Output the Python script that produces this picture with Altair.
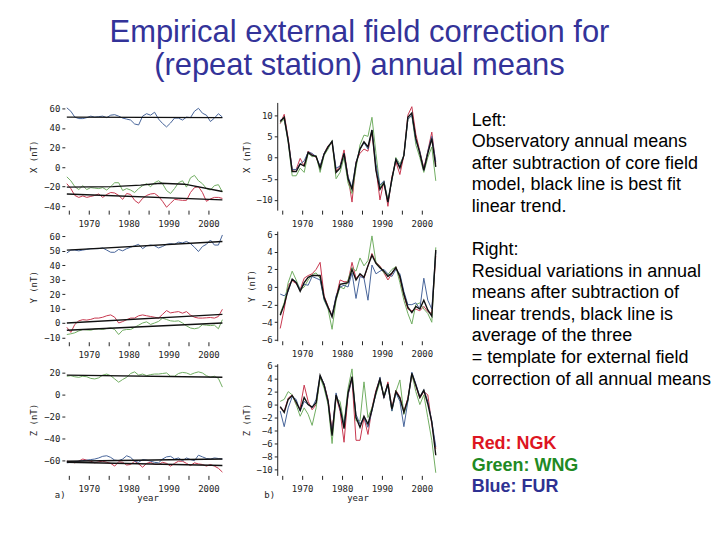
import altair as alt
import pandas as pd

# ---------------- data ----------------
years = list(range(1964, 2004))  # annual means, plotted at mid-year

# Left column: observatory annual means minus core field model (nT)
LX = {
    "NGK": [-17, -22, -29, -31, -29.5, -31, -30, -29, -27.5, -31, -28, -26, -26.5, -29, -33, -27, -28, -34, -37, -32,
            -29, -27.5, -27, -30, -35, -41, -37, -33, -33.5, -34, -34, -26, -21, -20, -26, -35, -32.5, -31, -31, -32],
    "WNG": [-10, -14, -20, -23, -19, -23, -21, -21.5, -22, -21, -23.5, -20, -16, -16, -24, -22, -23.5, -26, -22, -19,
            -17, -20, -16, -14, -17, -24, -27, -22, -16, -14, -20.5, -11, -8.5, -14, -17, -22, -23.5, -19, -18, -25.5],
    "FUR": [60.5, 57, 51, 49.5, 49.5, 50.5, 52, 51, 51.5, 52, 50.5, 53, 53.5, 52, 50, 49, 48, 44, 43, 52,
            54.5, 53, 56, 49, 44.5, 41, 45, 50, 50, 48, 51, 50.5, 57, 60, 55, 53, 46.5, 50, 54.5, 51],
}
LY = {
    "NGK": [-3, -6.5, -1, 1.5, 2.3, 2, 2.5, 3.4, 3.4, 4, 5, 5.6, 4, 0, 1, 2.3, 3.4, 3.4, 5, 5.6,
            5, 4.5, 4, 3.4, 6, 8.6, 7, 7.5, 7.9, 6.8, 7.9, 5.5, 4, 3.4, 3.4, 3.6, 3.8, 3.4, 4.5, 9.5],
    "WNG": [-8, -7.5, -6.8, -5.5, -4.5, -4.8, -5, -4.2, -4, -4.5, -3.8, -3.4, -4.5, -8, -5, -4.5, -4.5, -3, -1.5, 0,
            0.8, -1, 0, 1.1, 3.4, 2.4, 1.5, 1.2, 1.5, 0, -2, -3.5, -4, -3.4, -1.2, -1.5, -1.8, -1.5, -4, 2.3],
    "FUR": [48.5, 50.5, 50.5, 50, 50.5, 51, 51.5, 51.5, 51.5, 52, 50.5, 49, 49, 51, 50, 51.5, 52.5, 53.5, 54.5, 51.5,
            53.5, 54, 53.5, 52, 53, 54.5, 55, 54.5, 56, 55.5, 56.5, 55, 52.5, 49.5, 53, 54.5, 57.5, 54, 54, 61],
}
LZ = {
    "NGK": [-61, -61.5, -62.5, -61, -59, -60, -61, -62.5, -61.5, -61, -62, -63, -65.5, -61.5, -62, -64.5, -64, -61, -63.5, -66.5,
            -63, -62, -64, -64, -62, -63, -65.5, -63, -61, -61, -63, -65, -62.5, -63.5, -64, -65.5, -64, -65.5, -67.5, -71],
    "WNG": [17, 17.5, 16.5, 16, 17, 16.5, 15, 14.5, 15.5, 18, 19, 17.5, 14.5, 11.5, 14, 16, 19.5, 21, 18, 19,
            17.5, 18.5, 19, 19, 19.5, 20, 17, 17, 19.5, 20.5, 20, 18.5, 20, 21, 20, 17.5, 16, 17, 15, 7],
    "FUR": [-62.5, -62, -61.5, -61, -60.5, -60, -59.5, -59, -58, -56.5, -56, -57.5, -60, -60.5, -59, -56, -57.5, -61, -62, -59.5,
            -60, -61, -62, -62.5, -59, -57, -56.5, -59, -58, -60.5, -58, -59.5, -60.5, -55.5, -57, -58.5, -59, -58, -58.5, -59],
}

# best-fit trends (knot years and values)
LX_trend = {
    "NGK": ([1964.5, 2003.5], [-27.5, -33.5]),
    "WNG": ([1964.5, 1976, 1983, 1988, 1994, 2003.5], [-20.5, -20.0, -18.5, -16.5, -17.5, -25.0]),
    "FUR": ([1964.5, 2003.5], [51.0, 50.5]),
}
LY_trend = {
    "NGK": ([1964.5, 2003.5], [0.0, 6.0]),
    "WNG": ([1964.5, 2003.5], [-5.0, 0.0]),
    "FUR": ([1964.5, 2003.5], [50.5, 56.5]),
}
LZ_trend = {
    "NGK": ([1964.5, 2003.5], [-62.0, -65.0]),
    "WNG": ([1964.5, 2003.5], [18.0, 16.0]),
    "FUR": ([1964.5, 2003.5], [-61.0, -59.0]),
}

# Right column: residuals after removing linear trends (nT); "AVG" is the black average
RX = {
    "NGK": [8.0, 10.2, 4.5, -3.0, -2.8, -0.2, -2.0, 1.5, 0.8, 0.0, -2.2, 1.0, 2.8, 3.5, -3.2, -2.0, 1.8, -4.5, -10.5, -1.0,
            1.0, 2.0, 1.5, 6.0, -2.5, -10.0, -5.5, -11.5, -4.5, -1.0, -4.0, 0.5, 10.0, 12.0, 5.5, 1.5, -2.5, 1.5, 6.0, -1.5],
    "WNG": [8.2, 9.0, 3.5, -4.3, -4.3, -2.5, -3.5, 1.0, 0.2, 0.5, -3.5, 0.5, 2.0, 4.0, -5.0, -3.5, 0.0, -6.0, -8.5, -2.5,
            3.0, 5.3, 5.0, 9.5, 1.0, -7.0, -5.5, -10.0, -5.5, 0.0, -1.5, 0.5, 9.0, 10.0, 3.0, 0.0, -3.5, 0.0, 2.5, -5.5],
    "FUR": [8.8, 9.3, 4.0, -2.8, -2.8, -1.5, -0.8, 1.3, 1.0, 0.2, -2.0, 1.0, 2.6, 3.8, -2.5, -2.0, 1.0, -4.5, -7.0, -1.2,
            2.0, 3.5, 2.0, 6.5, -1.5, -6.5, -5.5, -10.5, -5.2, -0.3, -2.0, 0.5, 9.0, 10.0, 4.0, 1.5, -3.0, 1.5, 5.0, -1.0],
    "AVG": [8.5, 9.5, 4.0, -3.3, -3.3, -1.5, -2.0, 1.2, 0.5, 0.3, -2.5, 0.8, 2.5, 3.8, -3.5, -2.5, 1.0, -5.0, -7.5, -1.5,
            2.0, 3.7, 2.5, 6.5, -3.0, -7.5, -6.0, -10.5, -5.0, -0.5, -2.5, 0.5, 9.5, 10.5, 4.5, 1.0, -3.0, 1.0, 4.5, -2.2],
}
RY = {
    "NGK": [-4.7, -2.5, 0.2, 0.7, 0.4, -0.3, 1.0, 1.3, 1.5, 2.0, 2.8, -1.0, -2.2, -3.2, -1.2, 0.8, 0.6, 0.6, 2.8, 1.0,
            1.4, 1.0, 2.4, 3.8, 2.8, 2.4, 1.6, 0.8, 1.5, 2.3, 1.0, -1.0, -2.5, -2.7, -2.5, -2.7, -2.2, -2.8, -3.0, 3.5],
    "WNG": [-3.0, -1.8, 0.5, 1.8, 0.8, -0.3, 0.0, 0.8, 1.4, 1.6, 1.0, -1.5, -2.5, -4.8, -1.5, 0.0, -0.2, 0.8, 2.2, 1.8,
            3.3, 2.4, 3.0, 5.8, 2.8, 2.3, 1.6, 1.4, 2.0, 2.3, 0.5, -1.5, -3.0, -4.2, -2.0, -1.8, -2.5, -3.0, -4.0, 4.5],
    "FUR": [-0.8, -1.0, -0.5, 0.9, 0.6, -0.3, 0.3, 0.2, 1.2, 1.0, 0.8, -1.4, -2.4, -3.2, -1.0, 0.0, 0.2, 0.0, 1.6, -1.3,
            1.2, 1.0, -1.5, 2.5, 1.5, 1.8, 2.0, 1.5, 1.2, 2.0, 1.5, -0.5, -2.0, -2.0, -1.8, -2.5, 1.0, -1.5, -2.5, 4.0],
    "AVG": [-3.2, -2.0, -0.3, 0.9, 0.5, -0.5, 0.5, 1.1, 1.3, 1.3, 1.3, -1.2, -2.3, -3.4, -1.3, 0.3, 0.4, 0.5, 2.0, 0.8,
            1.5, 1.1, 2.4, 3.6, 2.7, 2.2, 1.8, 1.2, 1.6, 2.2, 1.2, -0.8, -2.3, -2.9, -2.2, -2.5, -1.5, -2.6, -3.3, 4.2],
}
RZ = {
    "NGK": [-0.5, -1.0, 1.0, 1.5, 0.0, -0.5, 3.0, 0.5, -0.8, 0.0, 4.3, 3.2, 0.8, -4.0, 1.2, -1.0, -5.8, 1.5, 3.9, -5.5,
            -5.5, -2.0, -4.6, -0.5, 2.2, 4.0, 1.0, 3.5, -0.5, 2.2, 1.2, -1.0, 1.0, 4.5, 2.8, 1.0, 2.0, 1.5, -3.0, -6.8],
    "WNG": [0.5, 0.8, 2.0, 1.5, 0.0, -1.8, -0.5, -1.5, -3.2, -0.5, 4.2, 2.5, 0.0, -6.0, 1.0, 0.5, -3.0, 2.5, 5.5, -2.5,
            -2.5, 3.5, -2.0, -0.5, 1.5, 3.5, 1.5, 3.0, -1.0, 2.0, 3.8, -1.5, 0.5, 4.8, 2.0, 0.0, 1.5, -2.0, -5.5, -10.5],
    "FUR": [-1.0, -3.4, -0.5, 1.2, 0.8, -1.0, 0.5, 0.0, -0.5, 0.8, 4.5, 3.2, 0.5, -4.5, 1.8, -0.8, -3.0, 1.5, 4.0, -1.5,
            -3.0, -2.0, -3.5, -1.0, 1.8, 4.2, 1.0, 3.0, -1.0, 1.8, 0.5, -3.4, 0.5, 5.0, 3.2, 1.2, 2.3, 0.5, -2.5, -6.5],
    "AVG": [-0.3, -1.2, 0.8, 1.4, 0.4, -0.9, 1.1, 0.0, -0.4, 0.3, 4.5, 3.0, 0.5, -4.8, 1.5, -0.5, -3.7, 1.8, 4.3, -2.0,
            -3.5, -1.8, -3.0, -0.8, 1.9, 3.9, 1.2, 3.2, -0.7, 2.0, 1.0, -1.2, 0.8, 4.8, 3.0, 1.1, 2.2, 0.1, -2.7, -7.8],
}

title_lines = ["Empirical external field correction for", "(repeat station) annual means"]
note_lines = [
    "Left:", "Observatory annual means", "after subtraction of core field",
    "model, black line is best fit", "linear trend.",
    "Right:", "Residual variations in annual", "means after subtraction of",
    "linear trends, black line is", "average of the three",
    "= template for external field", "correction of all annual means",
]
note_rows = [0, 1, 2, 3, 4, 6, 7, 8, 9, 10, 11, 12]
legend_lines = ["Red: NGK", "Green: WNG", "Blue: FUR"]
legend_rows = [15, 16, 17]
legend_colors = ["#DD1522", "#1F8A23", "#2E3192"]

# ---------------- styling ----------------
STATIONS = ["NGK", "WNG", "FUR"]
LINE_COLORS = ["#C8384F", "#71AE62", "#47649A"]
BLACK = "#111111"
MONO = "DejaVu Sans Mono"
AX = "#222222"


def obs_df(d):
    rows = []
    for st, vals in d.items():
        for y, v in zip(years, vals):
            rows.append({"year": y + 0.5, "value": v, "station": st})
    return pd.DataFrame(rows)


def knot_df(d):
    rows = []
    for st, (ky, kv) in d.items():
        for y, v in zip(ky, kv):
            rows.append({"year": y, "value": v, "station": st})
    return pd.DataFrame(rows)


def panel(obs, black, ytitle, ydom, yvals, xdom, width, height, ydomain_line, bottom=False, tag=None, tagx=-10):
    xaxis = alt.Axis(
        values=[1965, 1970, 1975, 1980, 1985, 1990, 1995, 2000],
        labelExpr="datum.value % 10 == 0 ? datum.label : ''",
        format="d", domain=False, grid=False, tickSize=4, tickColor=AX,
        labelFont=MONO, labelFontSize=9, labelColor=AX, labelPadding=5,
        title="year" if bottom else None, titleFont=MONO, titleFontSize=9,
        titleFontWeight="normal", titleColor=AX, titlePadding=0,
    )
    yaxis = alt.Axis(
        values=yvals, domain=ydomain_line, domainColor=AX, grid=False, tickSize=3, tickColor=AX,
        labelFont=MONO, labelFontSize=9, labelColor=AX, labelPadding=2,
        title=ytitle, titleFont=MONO, titleFontSize=9, titleFontWeight="normal",
        titleColor=AX, titlePadding=5,
    )
    x = alt.X("year:Q", scale=alt.Scale(domain=xdom, nice=False, zero=False), axis=xaxis)
    y = alt.Y("value:Q", scale=alt.Scale(domain=ydom, nice=False, zero=False), axis=yaxis)
    colored = alt.Chart(obs).mark_line(strokeWidth=1, clip=True).encode(
        x=x, y=y,
        color=alt.Color("station:N", scale=alt.Scale(domain=STATIONS, range=LINE_COLORS), legend=None),
    )
    dark = alt.Chart(black).mark_line(strokeWidth=1.4, color=BLACK, clip=True).encode(
        x=x, y=y, detail="station:N",
    )
    layers = [colored, dark]
    if tag:
        layers.append(
            alt.Chart(pd.DataFrame({"t": [tag]})).mark_text(
                font=MONO, fontSize=9, color=AX, align="left", baseline="middle"
            ).encode(text="t:N", x=alt.value(tagx), y=alt.value(height + 20))
        )
    return alt.layer(*layers).properties(width=width, height=height)


LXD = (1964, 2005.5)
RXD = (1963.75, 2004)
LW, RW = 166, 161

left = alt.vconcat(
    panel(obs_df(LX), knot_df(LX_trend), "X (nT)", [-44, 66], [-40, -20, 0, 20, 40, 60], LXD, LW, 108, False),
    panel(obs_df(LY), knot_df(LY_trend), "Y (nT)", [-13, 63], [-10, 0, 10, 20, 30, 40, 50, 60], LXD, LW, 110, False),
    panel(obs_df(LZ), knot_df(LZ_trend), "Z (nT)", [-74, 28.5], [-60, -40, -20, 0, 20], LXD, LW, 112, False,
          bottom=True, tag="a)", tagx=-10),
    spacing=4,
)


def split(d):
    obs = {k: v for k, v in d.items() if k != "AVG"}
    return obs_df(obs), obs_df({"AVG": d["AVG"]})


rx_o, rx_b = split(RX)
ry_o, ry_b = split(RY)
rz_o, rz_b = split(RZ)
right = alt.vconcat(
    panel(rx_o, rx_b, "X (nT)", [-12.4, 13], [-10, -5, 0, 5, 10], RXD, RW, 108, True),
    panel(ry_o, ry_b, "Y (nT)", [-6.1, 6.35], [-6, -4, -2, 0, 2, 4, 6], RXD, RW, 110, True),
    panel(rz_o, rz_b, "Z (nT)", [-10.9, 6.3], [-10, -8, -6, -4, -2, 0, 2, 4, 6], RXD, RW, 112, True,
          bottom=True, tag="b)", tagx=-13),
    spacing=2,
)

notes_df = pd.DataFrame({"row": note_rows, "line": note_lines})
legend_df = pd.DataFrame({"row": legend_rows, "line": legend_lines, "col": legend_colors})
ty = alt.Y("row:Q", scale=alt.Scale(domain=[-0.85, 17], nice=False, zero=False, reverse=True), axis=None)
notes = alt.Chart(notes_df).mark_text(
    align="left", baseline="middle", font="Liberation Sans", fontSize=18, color="#000000"
).encode(x=alt.value(0), y=ty, text="line:N")
legend_txt = alt.Chart(legend_df).mark_text(
    align="left", baseline="middle", font="Liberation Sans", fontSize=18, fontWeight="bold"
).encode(x=alt.value(0), y=ty, text="line:N", color=alt.Color("col:N", scale=None))
text_panel = alt.layer(notes, legend_txt).properties(width=235, height=386)

chart = alt.hconcat(
    alt.hconcat(left, right, spacing=11),
    text_panel,
    spacing=34,
).properties(
    title=alt.TitleParams(
        text=title_lines, font="Liberation Sans", fontSize=31, fontWeight="normal",
        color="#333399", lineHeight=33, anchor="middle", offset=21, dx=-11,
    ),
    padding={"left": 21, "top": 8, "right": 0, "bottom": 0},
).configure(
    background="white",
    view=alt.ViewConfig(strokeWidth=0, stroke="transparent"),
)

chart.save("out.html", embed_options={"renderer": "svg", "actions": False})
